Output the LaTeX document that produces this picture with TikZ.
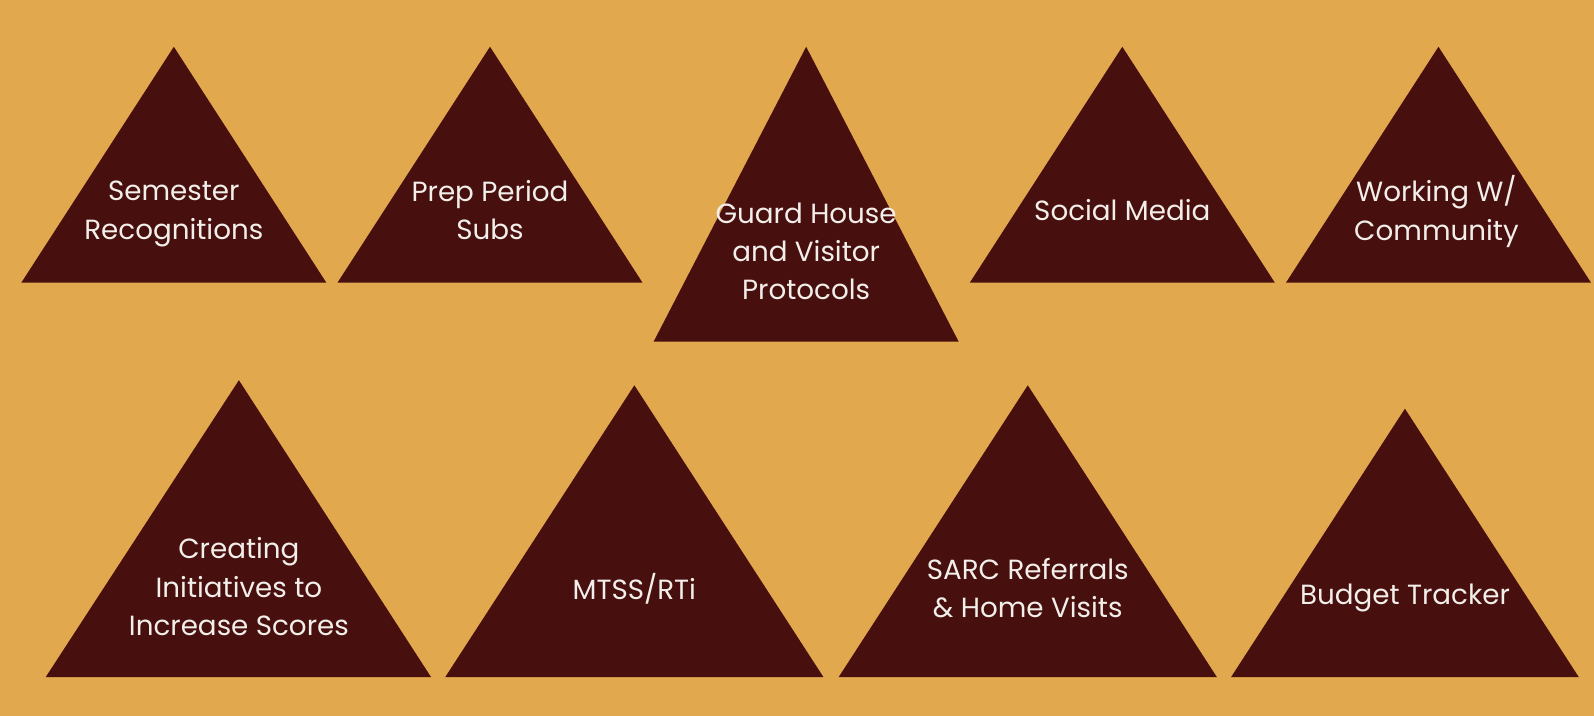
\documentclass[tikz,border=0pt]{standalone}
\usepackage{fontspec}
\setmainfont{Poppins}
\definecolor{bg}{HTML}{E2A84E}
\definecolor{tri}{HTML}{470F0D}
\definecolor{txt}{HTML}{F2EEEA}
\begin{document}
\begin{tikzpicture}[x=1pt,y=-1pt,
  tribox/.style={fill=tri,draw=none},
  lbl/.style={text=txt,align=center,font=\fontsize{27.3}{37.5}\selectfont,inner sep=0pt}]
\fill[bg] (0,0) rectangle (1568,704.3);
\useasboundingbox (0,0) rectangle (1568,704.3);
% row 1
\fill[tribox] (171,46) -- (321,278) -- (21,278) -- cycle;
\fill[tribox] (482,46) -- (632,278) -- (332,278) -- cycle;
\fill[tribox] (793,46) -- (943,336) -- (643,336) -- cycle;
\fill[tribox] (1104,46) -- (1254,278) -- (954,278) -- cycle;
\fill[tribox] (1415,46) -- (1565,278) -- (1265,278) -- cycle;
% row 2
\fill[tribox] (235,374) -- (424,666) -- (45,666) -- cycle;
\fill[tribox] (624,379) -- (810,666) -- (438,666) -- cycle;
\fill[tribox] (1011,379) -- (1197,666) -- (825,666) -- cycle;
\fill[tribox] (1382,402) -- (1553,666) -- (1211,666) -- cycle;
% labels
\node[lbl] (t1) at (171,210.5) {Semester\\Recognitions};
\node[lbl] (t2) at (482,207) {Prep Period\\Subs};
\node[lbl] (t3) at (793,247) {Guard House\\and Visitor\\Protocols};
\node[lbl] (t4) at (1104,207) {Social Media};
\node[lbl] (t5) at (1413,208) {Working W/\\Community};
\node[lbl] (t6) at (235,577) {Creating\\Initiatives to\\Increase Scores};
\node[lbl] (t7) at (624,579) {MTSS/RTi};
\node[lbl] (t8) at (1011,578.5) {SARC Referrals\\\& Home Visits};
\node[lbl] (t9) at (1382,588) {Budget Tracker};
\end{tikzpicture}
\end{document}
